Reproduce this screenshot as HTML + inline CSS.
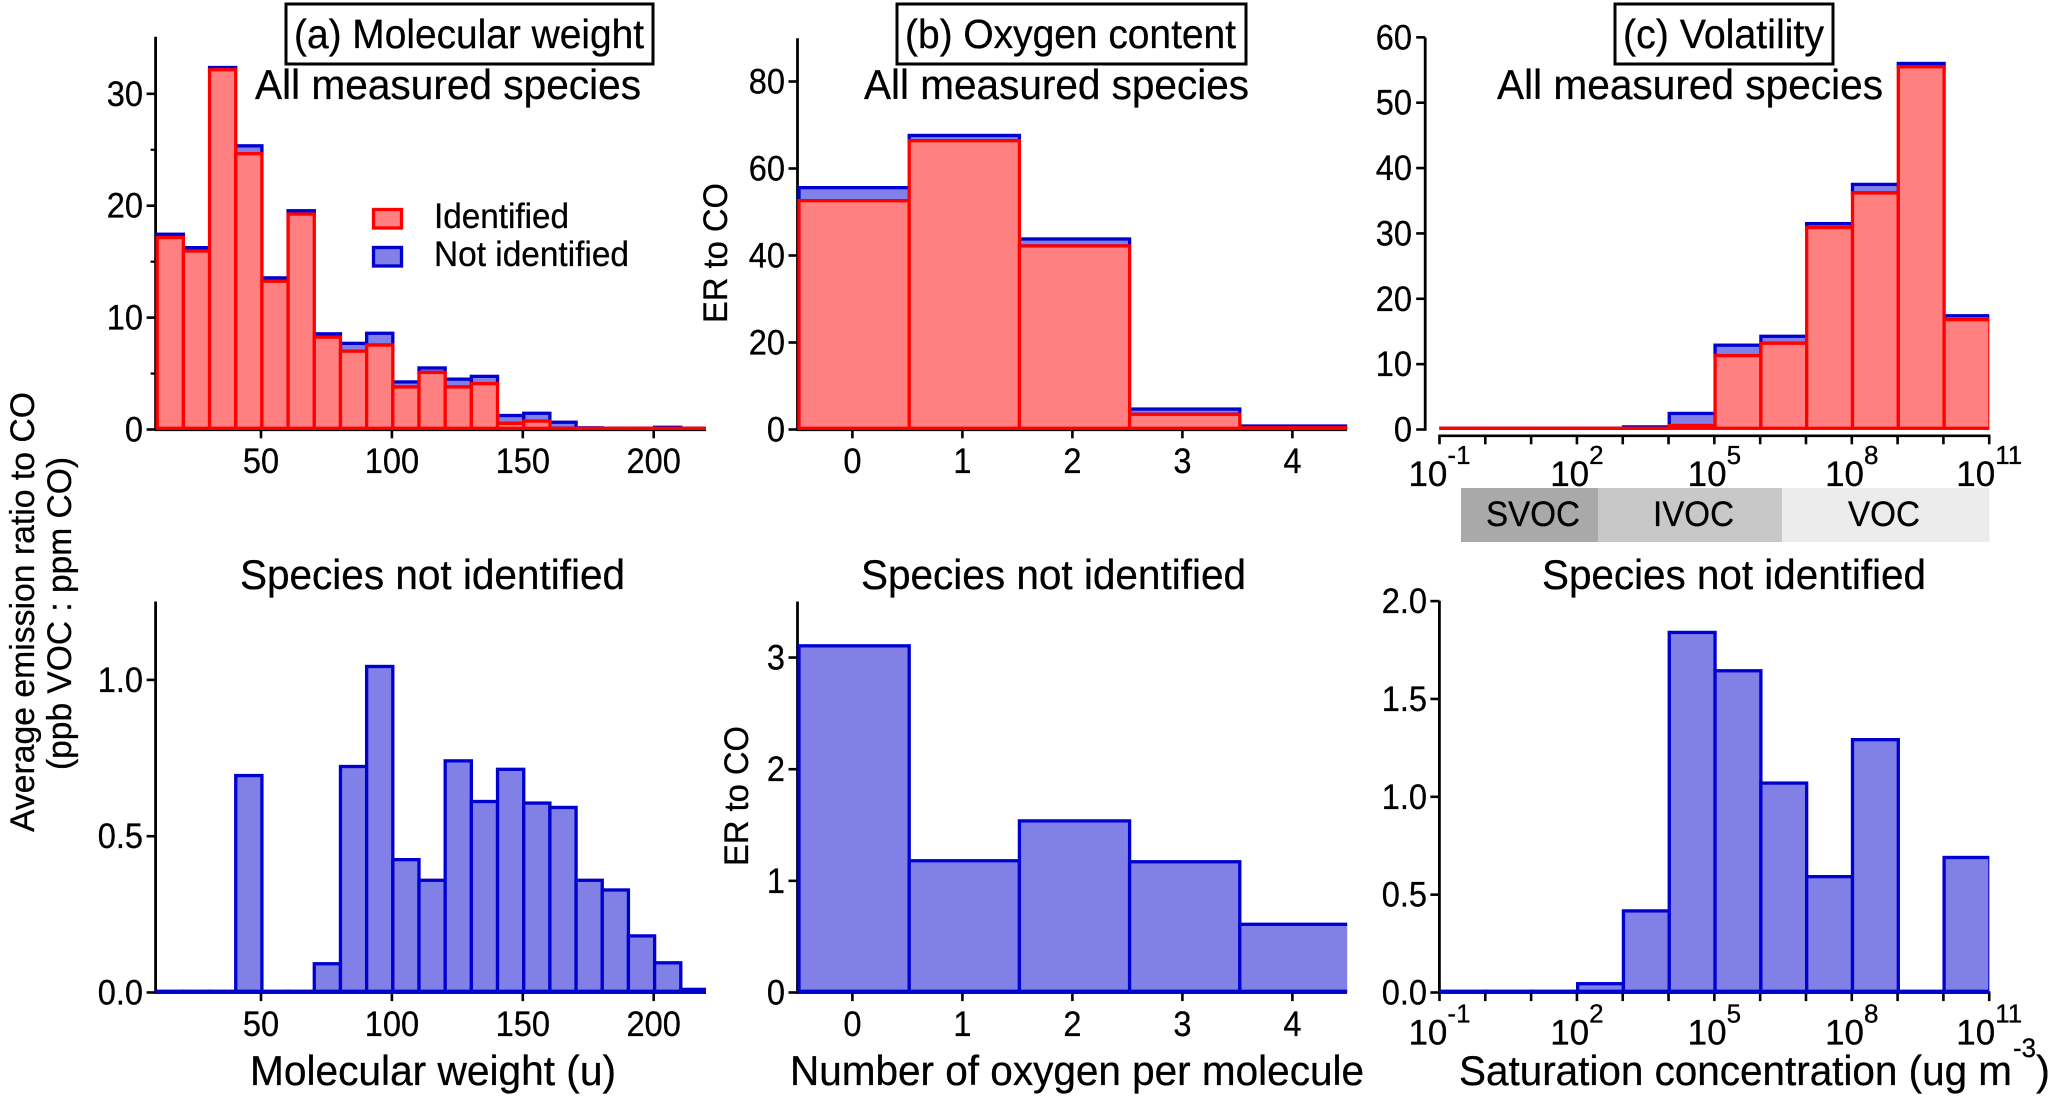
<!DOCTYPE html>
<html lang="en">
<head>
<meta charset="utf-8">
<title>VOC emission ratio histograms</title>
<style>
html,body{margin:0;padding:0;background:#fff;}
svg{display:block;}
text{font-family:"Liberation Sans",Arial,sans-serif;fill:#000;stroke:#000;stroke-width:.3px;}
</style>
</head>
<body>
<svg id="figure" xmlns="http://www.w3.org/2000/svg" width="2067" height="1107" viewBox="0 0 2067 1107">
  <rect x="0" y="0" width="2067" height="1107" fill="#fff"/>
  <g id="plots"></g>

  <rect x="286" y="4" width="367" height="60" fill="#fff" stroke="#000" stroke-width="3"/>
  <text x="294" y="48" font-size="41" textLength="350" lengthAdjust="spacingAndGlyphs">(a) Molecular weight</text>
  <rect x="897" y="4" width="349" height="60" fill="#fff" stroke="#000" stroke-width="3"/>
  <text x="905" y="48" font-size="41" textLength="331" lengthAdjust="spacingAndGlyphs">(b) Oxygen content</text>
  <rect x="1615" y="4" width="218" height="60" fill="#fff" stroke="#000" stroke-width="3"/>
  <text x="1623" y="48" font-size="41" textLength="201" lengthAdjust="spacingAndGlyphs">(c) Volatility</text>

  <text x="255" y="99" font-size="42" textLength="386" lengthAdjust="spacingAndGlyphs">All measured species</text>
  <text x="864" y="99" font-size="42" textLength="385" lengthAdjust="spacingAndGlyphs">All measured species</text>
  <text x="1497" y="99" font-size="42" textLength="386" lengthAdjust="spacingAndGlyphs">All measured species</text>
  <text x="240" y="589" font-size="42" textLength="385" lengthAdjust="spacingAndGlyphs">Species not identified</text>
  <text x="861" y="589" font-size="42" textLength="385" lengthAdjust="spacingAndGlyphs">Species not identified</text>
  <text x="1542" y="589" font-size="42" textLength="384" lengthAdjust="spacingAndGlyphs">Species not identified</text>

  <g>
    <rect x="373.5" y="209.5" width="28" height="18.5" fill="#ff8080" stroke="#ff0000" stroke-width="3.3"/>
    <text x="434" y="228" font-size="35" textLength="135" lengthAdjust="spacingAndGlyphs">Identified</text>
    <rect x="373.5" y="247.5" width="28" height="18.5" fill="#8080e6" stroke="#0000d0" stroke-width="3.3"/>
    <text x="434" y="266" font-size="35" textLength="195" lengthAdjust="spacingAndGlyphs">Not identified</text>
  </g>

  <text transform="rotate(-90 34 832)" x="34" y="832" font-size="34" textLength="440" lengthAdjust="spacingAndGlyphs">Average emission ratio to CO</text>
  <text transform="rotate(-90 71 770)" x="71" y="770" font-size="34" textLength="313" lengthAdjust="spacingAndGlyphs">(ppb VOC : ppm CO)</text>
  <text transform="rotate(-90 727 323)" x="727" y="323" font-size="34" textLength="140" lengthAdjust="spacingAndGlyphs">ER to CO</text>
  <text transform="rotate(-90 748 866)" x="748" y="866" font-size="34" textLength="140" lengthAdjust="spacingAndGlyphs">ER to CO</text>

  <text x="250" y="1085" font-size="42" textLength="366" lengthAdjust="spacingAndGlyphs">Molecular weight (u)</text>
  <text x="790" y="1085" font-size="42" textLength="574" lengthAdjust="spacingAndGlyphs">Number of oxygen per molecule</text>
  <text x="1459" y="1085" font-size="42" textLength="553" lengthAdjust="spacingAndGlyphs">Saturation concentration (ug m</text>
  <text x="2013" y="1057" font-size="27" textLength="23" lengthAdjust="spacingAndGlyphs">-3</text>
  <text x="2036" y="1085" font-size="42">)</text>

  <g>
    <rect x="1461" y="488" width="137" height="54" fill="#a9a9a9"/>
    <rect x="1598" y="488" width="184" height="54" fill="#c8c8c8"/>
    <rect x="1782" y="488" width="207.5" height="54" fill="#ececec"/>
    <text x="1486" y="526" font-size="35" textLength="94" lengthAdjust="spacingAndGlyphs">SVOC</text>
    <text x="1653" y="526" font-size="35" textLength="81" lengthAdjust="spacingAndGlyphs">IVOC</text>
    <text x="1848" y="526" font-size="35" textLength="72" lengthAdjust="spacingAndGlyphs">VOC</text>
  </g>
</svg>
<script>
// ---------- molecular weight panel data ----------
const mwBins = [10,20,30,40,50,60,70,80,90,100,110,120,130,140,150,160,170,180,190,200,210];
const mwIdentified = [17.15,15.95,32.15,24.65,13.25,19.25,8.25,7.0,7.55,3.8,5.1,3.8,4.1,0.55,0.75,0.1,0.05,0,0,0,0];
const mwTotal = [17.45,16.25,32.35,25.35,13.55,19.55,8.55,7.7,8.6,4.25,5.5,4.5,4.75,1.25,1.45,0.65,0.15,0.08,0.08,0.2,0.05];
const mwNotIdentified = [0,0,0,0.694,0,0,0.092,0.723,1.043,0.425,0.359,0.741,0.611,0.714,0.606,0.592,0.359,0.328,0.181,0.095,0.01];
const mwXTicks = [50,100,150,200];
const mwTopYTicks = [0,10,20,30];
const mwTopYMinorTicks = [5,15,25];
const mwBottomYTicks = ['0.0','0.5','1.0'];

// ---------- oxygen panel data ----------
const oxBins = [0,1,2,3,4];
const oxIdentified = [52.6,66.4,42.2,3.5,0.4];
const oxTotal = [55.6,67.6,43.8,4.7,0.8];
const oxNotIdentified = [3.105,1.18,1.537,1.171,0.611];
const oxXTicks = [0,1,2,3,4];
const oxTopYTicks = [0,20,40,60,80];
const oxBottomYTicks = ['0','1','2','3'];

// ---------- volatility panel data (bins are log10 decades) ----------
const volBins = [-1,0,1,2,3,4,5,6,7,8,9,10];
const volIdentified = [0.05,0.05,0.05,0.05,0.1,0.6,11.3,13.2,30.9,36.2,55.5,16.8];
const volTotal = [0.05,0.05,0.05,0.05,0.4,2.46,12.9,14.26,31.5,37.5,56,17.4];
const volNotIdentified = [0,0,0,0.045,0.417,1.84,1.644,1.07,0.592,1.292,0,0.69];
const volXTicks = [-1,0,1,2,3,4,5,6,7,8,9,10,11];
const volXLabels = ['-1','2','5','8','11'];
const volTopYTicks = [0,10,20,30,40,50,60];
const volBottomYTicks = ['0.0','0.5','1.0','1.5','2.0'];

const SVGNS = 'http://www.w3.org/2000/svg';
const root = document.getElementById('plots');
const RED = '#ff0000', RED_FILL = '#ff8080', BLUE = '#0000d0', BLUE_FILL = '#8080e6';
const STROKE_W = 3.3, TICK_FONT = 35, NARROW = 0.93;
let clipCount = 0;

function el(tag, attrs, parent) {
  const n = document.createElementNS(SVGNS, tag);
  for (const k in attrs) n.setAttribute(k, attrs[k]);
  parent.appendChild(n);
  return n;
}

function condense(t) {
  t.setAttribute('lengthAdjust', 'spacingAndGlyphs');
  t.setAttribute('textLength', (t.getComputedTextLength() * NARROW).toFixed(2));
}

// Axis functions
const mwXTick = v => 261 + (v - 50) * 2.618;
const mwXBar = v => 157.2 + (v - 10) * 2.618;
const oxXTick = v => 852.4 + v * 110;
const oxXBar = v => 799 + v * 110.2;
const volXTick = v => 1439.5 + (v + 1) * 45.81;
const volXBar = v => 1440.2 + (v + 1) * 45.81;
const linearY = (zeroY, pxPerUnit) => v => zeroY - v * pxPerUnit;

function drawPanel(cfg) {
  const g = el('g', {}, root);
  
  

  // y axis line
  const yAxis = el('line', {x1: cfg.axisX, x2: cfg.axisX, y1: cfg.axisTop, y2: cfg.y(0) + 1.2, stroke: '#000', 'stroke-width': 2.8}, g);
  
  

  // x axis line
  const xAxis = el('line', {x1: cfg.xLineStart, x2: cfg.xLineEnd, y1: cfg.xLineY, y2: cfg.xLineY, stroke: '#000', 'stroke-width': 2.6}, g);
  
  

  // y ticks + labels
  cfg.yTicks.forEach(label => {
    const v = parseFloat(label);
    const tick = el('line', {x1: cfg.axisX - 9, x2: cfg.axisX, y1: cfg.y(v), y2: cfg.y(v), stroke: '#000', 'stroke-width': 2.6}, g);
    
    
    const t = el('text', {x: cfg.yLabelX, y: cfg.y(v) + 12, 'font-size': TICK_FONT, 'text-anchor': 'end'}, g);
    t.textContent = label;
    
    
    condense(t);
  });
  (cfg.yMinor || []).forEach(v => {
    const tick = el('line', {x1: cfg.axisX - 5, x2: cfg.axisX, y1: cfg.y(v), y2: cfg.y(v), stroke: '#000', 'stroke-width': 2.2}, g);
    
    
  });

  // x ticks
  cfg.xTicks.forEach(v => {
    const tick = el('line', {x1: cfg.xTick(v), x2: cfg.xTick(v), y1: cfg.xLineY, y2: cfg.xLineY + 8.5, stroke: '#000', 'stroke-width': 2.6}, g);
    
    
  });
  // x labels
  if (cfg.xLabels) {
    cfg.xLabels.forEach(exp => {
      const t = el('text', {x: cfg.xTick(parseFloat(exp)), y: cfg.xLabelY, 'font-size': TICK_FONT, 'text-anchor': 'middle'}, g);
      
      
      const base = el('tspan', {}, t);
      base.textContent = '10';
      const sup = el('tspan', {dy: -22, 'font-size': 26}, t);
      sup.textContent = exp;
    });
  } else {
    cfg.xTicks.forEach(v => {
      const t = el('text', {x: cfg.xTick(v), y: cfg.xLabelY, 'font-size': TICK_FONT, 'text-anchor': 'middle'}, g);
      t.textContent = String(v);
      
      
      condense(t);
    });
  }

  // clip
  const clipId = 'clip' + (clipCount++);
  const cp = el('clipPath', {id: clipId}, g);
  el('rect', {x: cfg.clipLeft, y: 0, width: cfg.clipRight - cfg.clipLeft, height: 1107}, cp);

  const bars = el('g', {'clip-path': 'url(#' + clipId + ')'}, g);
  
  
  const baseY = cfg.y(0) - 1.2;

  cfg.bins.forEach((b, i) => {
    const x1 = cfg.xBar(b), x2 = cfg.xBar(b + cfg.step);
    const low = cfg.lower ? Math.min(cfg.y(cfg.lower[i]), baseY) : baseY;
    const top = Math.min(cfg.y(cfg.upper[i]), low - 0.05);
    const blue = el('rect', {x: x1, y: top, width: x2 - x1, height: low - top, fill: BLUE_FILL, stroke: BLUE, 'stroke-width': STROKE_W}, bars);
    
    
  });
  if (cfg.lower) {
    cfg.bins.forEach((b, i) => {
      const x1 = cfg.xBar(b), x2 = cfg.xBar(b + cfg.step);
      const low = Math.min(cfg.y(cfg.lower[i]), baseY - 0.05);
      const red = el('rect', {x: x1, y: low, width: x2 - x1, height: baseY - low, fill: RED_FILL, stroke: RED, 'stroke-width': STROKE_W}, bars);
      
      
    });
  }
}

drawPanel({name:'panel-a-all-species', axisX:155.6, axisTop:36.7, y:linearY(429.5,11.19), yTicks:mwTopYTicks.map(String), yMinor:mwTopYMinorTicks, yLabelX:143,
  xTicks:mwXTicks, xTick:mwXTick, xBar:mwXBar, xLineStart:155, xLineEnd:706, xLineY:429.8, xLabelY:473, bins:mwBins, step:10, lower:mwIdentified, upper:mwTotal, clipLeft:155, clipRight:706});
drawPanel({name:'panel-a-not-identified', axisX:155.6, axisTop:601.5, y:linearY(992.5,312.6), yTicks:mwBottomYTicks, yLabelX:143,
  xTicks:mwXTicks, xTick:mwXTick, xBar:mwXBar, xLineStart:155, xLineEnd:706, xLineY:992.6, xLabelY:1036, bins:mwBins, step:10, upper:mwNotIdentified, clipLeft:155, clipRight:706});

drawPanel({name:'panel-b-all-species', axisX:797.5, axisTop:38.3, y:linearY(429.5,4.35), yTicks:oxTopYTicks.map(String), yLabelX:785,
  xTicks:oxXTicks, xTick:oxXTick, xBar:oxXBar, xLineStart:797, xLineEnd:1347, xLineY:429.8, xLabelY:473, bins:oxBins, step:1, lower:oxIdentified, upper:oxTotal, clipLeft:797, clipRight:1347.2});
drawPanel({name:'panel-b-not-identified', axisX:797.5, axisTop:601.5, y:linearY(992.5,111.65), yTicks:oxBottomYTicks, yLabelX:785,
  xTicks:oxXTicks, xTick:oxXTick, xBar:oxXBar, xLineStart:797, xLineEnd:1347, xLineY:992.6, xLabelY:1036, bins:oxBins, step:1, upper:oxNotIdentified, clipLeft:797, clipRight:1347.2});

drawPanel({name:'panel-c-all-species', axisX:1425.2, axisTop:37.5, y:linearY(429.5,6.536), yTicks:volTopYTicks.map(String), yLabelX:1412,
  xTicks:volXTicks, xTick:volXTick, xBar:volXBar, xLabels:volXLabels, xLineStart:1438.3, xLineEnd:1990.4, xLineY:435.8, xLabelY:486, bins:volBins, step:1, lower:volIdentified, upper:volTotal, clipLeft:1439.3, clipRight:1989.3});
drawPanel({name:'panel-c-not-identified', axisX:1439.4, axisTop:600.8, y:linearY(992.5,195.7), yTicks:volBottomYTicks, yLabelX:1427,
  xTicks:volXTicks, xTick:volXTick, xBar:volXBar, xLabels:volXLabels, xLineStart:1438.3, xLineEnd:1990.4, xLineY:992.6, xLabelY:1044.5, bins:volBins, step:1, upper:volNotIdentified, clipLeft:1439.3, clipRight:1989.3});
</script>
</body>
</html>
